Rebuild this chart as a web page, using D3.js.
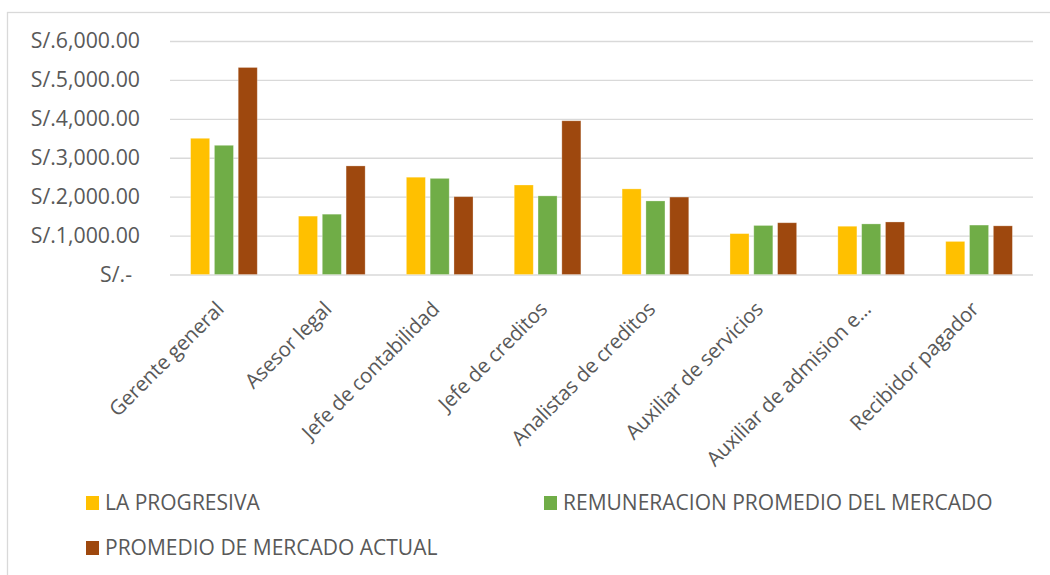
<!DOCTYPE html>
<html>
<head>
<meta charset="utf-8">
<script src="https://cdn.jsdelivr.net/npm/d3@7"></script>
<style>
  html, body { margin: 0; padding: 0; background: #fff; }
  svg { display: block; }
  text { font-family: "Open Sans", sans-serif; fill: #595959; }
</style>
</head>
<body>
<svg id="chart" width="1050" height="575"></svg>
<script>
// Puestos evaluados
const categories = [
  "Gerente general",
  "Asesor legal",
  "Jefe de contabilidad",
  "Jefe de creditos",
  "Analistas de creditos",
  "Auxiliar de servicios",
  "Auxiliar de admision e...",
  "Recibidor pagador"
];

// Remuneraciones por serie (S/.)
const laProgresiva        = [3500, 1500, 2500, 2300, 2200, 1050, 1240, 850];
const remuneracionMercado = [3320, 1550, 2470, 2020, 1890, 1260, 1300, 1270];
const promedioActual      = [5320, 2790, 2000, 3950, 1990, 1330, 1350, 1250];

const seriesNames = [
  "LA PROGRESIVA",
  "REMUNERACION PROMEDIO DEL MERCADO",
  "PROMEDIO DE MERCADO ACTUAL"
];
const seriesColors = ["#FFC000", "#70AD47", "#9E480E"];
const yTicks = [0, 1000, 2000, 3000, 4000, 5000, 6000];

const seriesData = [laProgresiva, remuneracionMercado, promedioActual];

const svg = d3.select("#chart");

// Marco del gráfico
svg.append("rect")
  .attr("x", 7.5).attr("y", 12.5)
  .attr("width", 1100).attr("height", 600)
  .attr("fill", "none")
  .attr("stroke", "#D9D9D9")
  .attr("stroke-width", 1.3);

const plot = { left: 170, right: 1033, top: 41, bottom: 274.5 };

const x0 = d3.scaleBand()
  .domain(categories)
  .range([plot.left, plot.right])
  .padding(0);

const bw = x0.bandwidth();
const x1 = d3.scaleBand()
  .domain(d3.range(seriesNames.length))
  .range([bw * 0.191, bw * 0.809])
  .paddingInner(0.2)
  .paddingOuter(0);

const y = d3.scaleLinear().domain([0, 6000]).range([plot.bottom, plot.top]);

const fmt = d3.format(",.2f");
const tickLabel = v => v === 0 ? "S/.-" : "S/." + fmt(v);

// Líneas de cuadrícula y etiquetas del eje Y
const yAxis = d3.axisLeft(y)
  .tickValues(yTicks)
  .tickFormat(tickLabel)
  .tickSize(-(plot.right - plot.left))
  .tickPadding(30);

const gy = svg.append("g")
  .attr("transform", `translate(${plot.left},0)`)
  .call(yAxis);
gy.select(".domain").remove();
gy.selectAll(".tick line")
  .attr("stroke", "#D9D9D9")
  .attr("stroke-width", 1.3);
gy.selectAll(".tick text")
  .attr("fill", "#595959")
  .style("font-size", "21.3px")
  .attr("dx", d => d === 0 ? -8 : 0);

// Barras agrupadas
const groups = svg.append("g")
  .selectAll("g")
  .data(categories)
  .join("g")
  .attr("transform", d => `translate(${x0(d)},0)`);

groups.selectAll("rect")
  .data((d, i) => seriesData.map((s, k) => ({ k, v: s[i] })))
  .join("rect")
  .attr("x", d => x1(d.k))
  .attr("width", x1.bandwidth())
  .attr("y", d => y(d.v))
  .attr("height", d => y(0) - y(d.v))
  .attr("fill", d => seriesColors[d.k])
  .attr("stroke", "#fff")
  .attr("stroke-opacity", 0.35)
  .attr("stroke-width", 0.8);

// Etiquetas del eje X giradas
const xAxis = d3.axisBottom(x0).tickSize(0).tickPadding(0);
const gx = svg.append("g")
  .attr("transform", `translate(0,${plot.bottom})`)
  .call(xAxis);
gx.select(".domain").remove();
gx.selectAll(".tick text")
  .attr("fill", "#595959")
  .style("font-size", "20.5px")
  .style("letter-spacing", "-0.2px")
  .attr("text-anchor", "end")
  .attr("y", 0)
  .attr("dy", 0)
  .attr("transform", "translate(1,36) rotate(-45)");

// Leyenda
const legendItems = [
  { name: seriesNames[0], color: seriesColors[0], x: 86, y: 510 },
  { name: seriesNames[1], color: seriesColors[1], x: 544, y: 510 },
  { name: seriesNames[2], color: seriesColors[2], x: 86, y: 555 }
];
const lg = svg.append("g")
  .selectAll("g")
  .data(legendItems)
  .join("g")
  .attr("transform", d => `translate(${d.x},${d.y})`);
lg.append("rect")
  .attr("x", 0).attr("y", -14)
  .attr("width", 13).attr("height", 14)
  .attr("fill", d => d.color);
lg.append("text")
  .attr("x", 19).attr("y", 0)
  .style("font-size", "21px")
  .text(d => d.name);
</script>
</body>
</html>
